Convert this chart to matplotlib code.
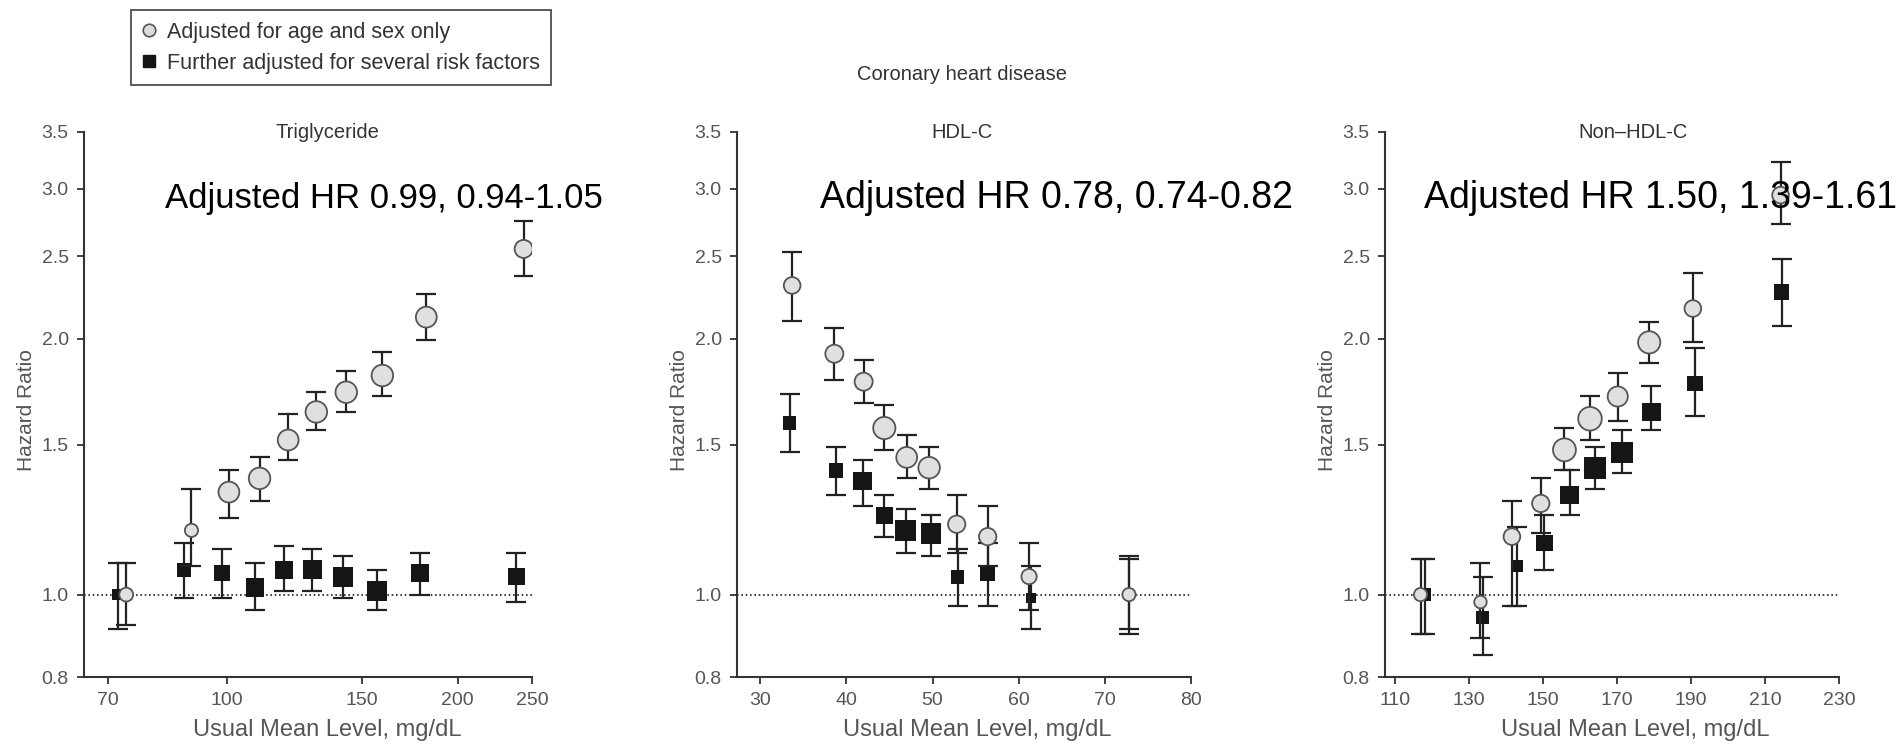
import matplotlib
matplotlib.use('Agg')
import matplotlib.pyplot as plt
from matplotlib.lines import Line2D
from matplotlib.ticker import FixedLocator, NullLocator, FixedFormatter

plt.rcParams['font.family'] = ['Liberation Sans', 'DejaVu Sans']

# Triglyceride
tg_x_age = [73.9, 89.9, 100.6, 110.3, 120.2, 130.8, 143.1, 159.5, 182.0, 243.8]
tg_hr_age = [1.00, 1.19, 1.32, 1.37, 1.52, 1.64, 1.73, 1.81, 2.12, 2.55]
tg_lo_age = [0.92, 1.08, 1.23, 1.29, 1.44, 1.56, 1.64, 1.71, 1.99, 2.37]
tg_hi_age = [1.09, 1.33, 1.40, 1.45, 1.63, 1.73, 1.83, 1.93, 2.26, 2.75]
tg_x_adj = [72.1, 87.9, 98.6, 108.8, 118.8, 129.2, 141.8, 157.0, 178.8, 238.6]
tg_hr_adj = [1.00, 1.07, 1.06, 1.02, 1.07, 1.07, 1.05, 1.01, 1.06, 1.05]
tg_lo_adj = [0.91, 0.99, 0.99, 0.96, 1.01, 1.01, 0.99, 0.96, 1.00, 0.98]
tg_hi_adj = [1.09, 1.15, 1.13, 1.09, 1.14, 1.13, 1.11, 1.07, 1.12, 1.12]

# HDL-C
hdl_x_age = [33.7, 38.6, 42.0, 44.4, 47.0, 49.6, 52.8, 56.4, 61.2, 72.8]
hdl_hr_age = [2.31, 1.92, 1.78, 1.57, 1.45, 1.41, 1.21, 1.17, 1.05, 1.00]
hdl_lo_age = [2.10, 1.79, 1.68, 1.48, 1.37, 1.33, 1.12, 1.08, 0.96, 0.90]
hdl_hi_age = [2.53, 2.06, 1.89, 1.67, 1.54, 1.49, 1.31, 1.27, 1.15, 1.11]
hdl_x_adj = [33.4, 38.8, 41.9, 44.4, 46.9, 49.8, 52.9, 56.4, 61.4, 72.8]
hdl_hr_adj = [1.59, 1.40, 1.36, 1.24, 1.19, 1.18, 1.05, 1.06, 0.99, 1.00]
hdl_lo_adj = [1.47, 1.31, 1.27, 1.17, 1.12, 1.11, 0.97, 0.97, 0.91, 0.91]
hdl_hi_adj = [1.72, 1.49, 1.44, 1.31, 1.26, 1.24, 1.13, 1.15, 1.08, 1.10]

# Non-HDL-C
nhdl_x_age = [116.9, 133.1, 141.6, 149.4, 155.8, 162.7, 170.2, 178.7, 190.5, 214.2]
nhdl_hr_age = [1.00, 0.98, 1.17, 1.28, 1.48, 1.61, 1.71, 1.98, 2.17, 2.95]
nhdl_lo_age = [0.90, 0.89, 0.97, 1.18, 1.40, 1.52, 1.60, 1.87, 1.98, 2.73]
nhdl_hi_age = [1.10, 1.09, 1.29, 1.37, 1.57, 1.71, 1.82, 2.09, 2.39, 3.23]
nhdl_x_adj = [118.0, 133.7, 143.1, 150.4, 157.2, 164.0, 171.3, 179.3, 191.1, 214.5]
nhdl_hr_adj = [1.00, 0.94, 1.08, 1.15, 1.31, 1.41, 1.47, 1.64, 1.77, 2.27]
nhdl_lo_adj = [0.90, 0.85, 0.97, 1.07, 1.24, 1.33, 1.39, 1.56, 1.62, 2.07]
nhdl_hi_adj = [1.10, 1.05, 1.20, 1.24, 1.40, 1.49, 1.56, 1.76, 1.95, 2.48]

# marker sizes (points)
tg_ms_age = [10, 9.5, 15, 15.5, 15, 15.5, 15.5, 15.5, 15, 13]
tg_ms_adj = [8, 10, 11.5, 13.5, 13, 13.5, 14.5, 14, 13, 12]
hdl_ms_age = [12, 13, 13, 16, 15, 15.5, 12.5, 12.5, 11, 9.5]
hdl_ms_adj = [10, 10.5, 13.5, 12, 15, 14.5, 10, 11, 7, 7]
nhdl_ms_age = [9.5, 9, 12, 12.5, 16.5, 17, 14.5, 16, 12, 12]
nhdl_ms_adj = [9, 9, 8.5, 12, 13.5, 16, 15.5, 13.5, 11, 11]

y_ticks = [0.8, 1.0, 1.5, 2.0, 2.5, 3.0, 3.5]
y_tick_labels = ['0.8', '1.0', '1.5', '2.0', '2.5', '3.0', '3.5']

panels = [
    dict(title='Triglyceride', xlog=True, xlim=(65.1, 250), xticks=[70, 100, 150, 200, 250],
         age=(tg_x_age, tg_hr_age, tg_lo_age, tg_hi_age, tg_ms_age),
         adj=(tg_x_adj, tg_hr_adj, tg_lo_adj, tg_hi_adj, tg_ms_adj),
         hr_text='Adjusted HR 0.99, 0.94-1.05', hr_size=25, pos=[84, 448],
         text_x=165, title_x=327, xlab_x=0.543),
    dict(title='HDL-C', xlog=False, xlim=(27.3, 80), xticks=[30, 40, 50, 60, 70, 80],
         age=(hdl_x_age, hdl_hr_age, hdl_lo_age, hdl_hi_age, hdl_ms_age),
         adj=(hdl_x_adj, hdl_hr_adj, hdl_lo_adj, hdl_hi_adj, hdl_ms_adj),
         hr_text='Adjusted HR 0.78, 0.74-0.82', hr_size=27, pos=[737, 454],
         text_x=820, title_x=962, xlab_x=0.529),
    dict(title='Non\u2013HDL-C', xlog=False, xlim=(107.3, 230), xticks=[110, 130, 150, 170, 190, 210, 230],
         age=(nhdl_x_age, nhdl_hr_age, nhdl_lo_age, nhdl_hi_age, nhdl_ms_age),
         adj=(nhdl_x_adj, nhdl_hr_adj, nhdl_lo_adj, nhdl_hi_adj, nhdl_ms_adj),
         hr_text='Adjusted HR 1.50, 1.39-1.61', hr_size=27, pos=[1385, 454],
         text_x=1424, title_x=1633, xlab_x=0.551),
]

W, H = 1897, 748
fig = plt.figure(figsize=(W / 100, H / 100), dpi=100)

ecol = '#222222'
for p in panels:
    ax = fig.add_axes([p['pos'][0] / W, (H - 677) / H, p['pos'][1] / W, 545 / H])
    if p['xlog']:
        ax.set_xscale('log')
    ax.set_yscale('log')
    ax.set_ylim(0.8, 3.5)
    ax.set_xlim(*p['xlim'])

    ax.axhline(1.0, color='#222222', lw=1.2, ls=(0, (1, 1.6)), zorder=1)

    # squares: further adjusted
    x, hr, lo, hi, ms = p['adj']
    yerr = [[h - l for h, l in zip(hr, lo)], [u - h for h, u in zip(hr, hi)]]
    ax.errorbar(x, hr, yerr=yerr, fmt='none', ecolor=ecol, elinewidth=1.6,
                capsize=7, capthick=1.6, zorder=2)
    ax.scatter(x, hr, s=[m ** 2 for m in ms], marker='s', color='#151515',
               edgecolors='none', zorder=3)

    # circles: age and sex only
    x, hr, lo, hi, ms = p['age']
    yerr = [[h - l for h, l in zip(hr, lo)], [u - h for h, u in zip(hr, hi)]]
    ax.errorbar(x, hr, yerr=yerr, fmt='none', ecolor=ecol, elinewidth=1.6,
                capsize=7, capthick=1.6, zorder=4)
    ax.scatter(x, hr, s=[m ** 2 for m in ms], marker='o', color='#e0e0e0',
               edgecolors='#555555', linewidths=1.3, zorder=5)

    ax.yaxis.set_major_locator(FixedLocator(y_ticks))
    ax.yaxis.set_major_formatter(FixedFormatter(y_tick_labels))
    ax.yaxis.set_minor_locator(NullLocator())
    ax.xaxis.set_major_locator(FixedLocator(p['xticks']))
    ax.xaxis.set_major_formatter(FixedFormatter([str(t) for t in p['xticks']]))
    ax.xaxis.set_minor_locator(NullLocator())

    for side in ['top', 'right']:
        ax.spines[side].set_visible(False)
    for side in ['left', 'bottom']:
        ax.spines[side].set_color('#333333')
        ax.spines[side].set_linewidth(1.5)
    ax.tick_params(length=5, width=1.3, color='#333333', labelcolor='#555555',
                   labelsize=14, pad=6)

    ax.set_xlabel('Usual Mean Level, mg/dL', fontsize=17, color='#555555')
    ax.xaxis.set_label_coords(p['xlab_x'], -42 / 545)
    ax.set_ylabel('Hazard Ratio', fontsize=15, color='#555555')
    ax.yaxis.set_label_coords(-48 / p['pos'][1], 0.489)

    fig.text(p['title_x'] / W, 1 - 133 / H, p['title'], ha='center', va='center',
             fontsize=14.5, color='#333333')
    fig.text(p['text_x'] / W, 1 - 208 / H, p['hr_text'], ha='left', va='baseline',
             fontsize=p['hr_size'], color='black', zorder=10)

fig.text(962 / W, 1 - 75 / H, 'Coronary heart disease', ha='center', va='center',
         fontsize=14.5, color='#333333')

handles = [
    Line2D([], [], ls='none', marker='o', markersize=9, markerfacecolor='#dcdcdc',
           markeredgecolor='#555555', markeredgewidth=1.2),
    Line2D([], [], ls='none', marker='s', markersize=8, markerfacecolor='#151515',
           markeredgecolor='#151515'),
]
leg = fig.legend(handles, ['Adjusted for age and sex only',
                           'Further adjusted for several risk factors'],
                 loc='upper left', bbox_to_anchor=(131 / W, 1 - 10 / H),
                 frameon=True, fancybox=False, edgecolor='#222222', fontsize=15.5,
                 handlelength=0.6, handletextpad=0.5, labelspacing=0.45,
                 borderpad=0.55, borderaxespad=0)
leg.get_frame().set_linewidth(1.3)
for t in leg.get_texts():
    t.set_color('#333333')

fig.savefig('out.png', dpi=100, facecolor='white')
